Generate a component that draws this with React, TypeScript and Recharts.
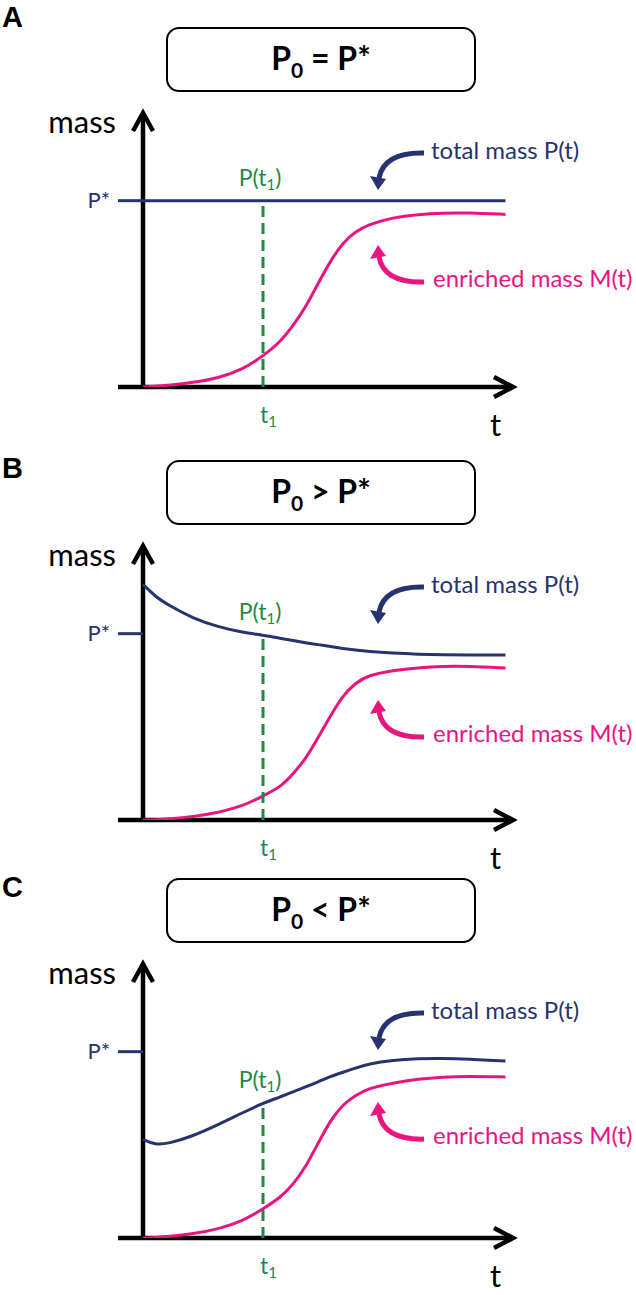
import React from 'react';
import { LineChart, Line, XAxis, YAxis, ReferenceLine, ReferenceDot } from 'recharts';

// time grid shared by all three panels
const times = [0, 0.5, 1, 2, 3, 4, 4.8, 5.5, 6, 6.5, 7, 7.5, 8, 8.5, 9, 10, 11, 12, 13, 14.5];
const T1 = 4.8;
const P_STAR = 6.8;

// panel A: P0 = P*
const enrichedA = [0, 0.02, 0.06, 0.16, 0.32, 0.64, 1.13, 1.65, 2.23, 2.9, 3.78, 4.6, 5.28, 5.67, 5.92, 6.19, 6.3, 6.35, 6.36, 6.3];
const totalA = [6.8, 6.8, 6.8, 6.8, 6.8, 6.8, 6.8, 6.8, 6.8, 6.8, 6.8, 6.8, 6.8, 6.8, 6.8, 6.8, 6.8, 6.8, 6.8, 6.8];

// panel B: P0 > P*
const enrichedB = [0, 0.01, 0.04, 0.12, 0.27, 0.51, 0.88, 1.2, 1.68, 2.22, 3.0, 3.8, 4.55, 5.0, 5.28, 5.46, 5.56, 5.61, 5.61, 5.55];
const totalB = [8.6, 8.15, 7.85, 7.36, 7.05, 6.84, 6.75, 6.63, 6.55, 6.47, 6.4, 6.33, 6.26, 6.2, 6.15, 6.09, 6.05, 6.03, 6.02, 6.02];

// panel C: P0 < P*
const enrichedC = [0, 0.02, 0.05, 0.15, 0.32, 0.62, 1.06, 1.48, 1.95, 2.58, 3.45, 4.3, 4.88, 5.2, 5.46, 5.66, 5.8, 5.88, 5.9, 5.88];
const totalC = [3.6, 3.4, 3.44, 3.72, 4.13, 4.58, 4.92, 5.15, 5.33, 5.51, 5.7, 5.9, 6.05, 6.2, 6.35, 6.49, 6.55, 6.56, 6.53, 6.46];

const NAVY = '#26336f';
const PINK = '#e8157f';
const GREEN = '#1d8a47';
const FONT = 'Lato, "Open Sans", sans-serif';

const panels = [
  { letter: 'A', top: 27, letterTop: -24, op: '=', enriched: enrichedA, total: totalA, blueTip: 7.19, pinkTip: 5.18 },
  { letter: 'B', top: 460, letterTop: -6, op: '>', enriched: enrichedB, total: totalB, blueTip: 7.15, pinkTip: 4.38 },
  { letter: 'C', top: 878, letterTop: -5, op: '<', enriched: enrichedC, total: totalC, blueTip: 6.86, pinkTip: 4.96 },
];

const XArrow = (p: any) => {
  const y = p.y1;
  const tip = Math.max(p.x1, p.x2);
  const start = Math.min(p.x1, p.x2);
  return (
    <g>
      <line x1={start} y1={y} x2={tip - 3} y2={y} stroke="#000" strokeWidth={4.5} />
      <polyline points={`${tip - 19},${y - 10} ${tip},${y} ${tip - 19},${y + 10}`} fill="none" stroke="#000" strokeWidth={4.5} />
    </g>
  );
};

const YArrow = (p: any) => {
  const x = p.x1;
  const tip = Math.min(p.y1, p.y2);
  const base = Math.max(p.y1, p.y2);
  return (
    <g>
      <line x1={x} y1={base} x2={x} y2={tip + 3} stroke="#000" strokeWidth={4.5} />
      <polyline points={`${x - 10},${tip + 18} ${x},${tip} ${x + 10},${tip + 18}`} fill="none" stroke="#000" strokeWidth={4.5} />
    </g>
  );
};

const BlueNote = ({ cx, cy }: any) => (
  <g>
    <path d={`M${cx + 46},${cy - 37} Q${cx + 6},${cy - 38} ${cx + 1},${cy - 12}`} fill="none" stroke={NAVY} strokeWidth={5} />
    <polygon points={`${cx},${cy} ${cx - 8},${cy - 14} ${cx + 8},${cy - 11}`} fill={NAVY} />
    <text x={cx + 53} y={cy - 31} fill={NAVY} fontSize={24} fontFamily={FONT}>total mass P(t)</text>
  </g>
);

const PinkNote = ({ cx, cy }: any) => (
  <g>
    <path d={`M${cx + 46},${cy + 37} Q${cx + 6},${cy + 38} ${cx + 1},${cy + 12}`} fill="none" stroke={PINK} strokeWidth={5} />
    <polygon points={`${cx},${cy} ${cx - 8},${cy + 14} ${cx + 8},${cy + 11}`} fill={PINK} />
    <text x={cx + 55} y={cy + 42} fill={PINK} fontSize={24} fontFamily={FONT}>enriched mass M(t)</text>
  </g>
);

const Panel = ({ cfg }: any) => {
  const rows = times.map((t, i) => ({ t, m: cfg.enriched[i], p: cfg.total[i] }));
  const pAtT1 = cfg.total[times.indexOf(T1)];
  return (
    <div style={{ position: 'absolute', left: 0, top: cfg.top, width: 636, height: 430 }}>
      <div style={{ position: 'absolute', left: 2, top: cfg.letterTop, fontFamily: '"Liberation Sans", Arial, sans-serif', fontWeight: 700, fontSize: 29, lineHeight: 1 }}>
        {cfg.letter}
      </div>
      <div
        style={{
          position: 'absolute', left: 166, top: 0, width: 310, height: 65, boxSizing: 'border-box',
          border: '2.5px solid #000', borderRadius: 13, display: 'flex', alignItems: 'center', justifyContent: 'center',
          fontFamily: FONT, fontWeight: 700, fontSize: 32, color: '#000',
        }}
      >
        <span style={{ position: 'relative', top: -2 }}>
          P<span style={{ fontSize: 21, position: 'relative', top: 8 }}>0</span> {cfg.op} P*
        </span>
      </div>
      <div style={{ position: 'absolute', left: 0, top: 60 }}>
        <LineChart width={636} height={370} data={rows} margin={{ top: 26, right: 118, bottom: 70, left: 118 }}>
          <XAxis dataKey="t" type="number" domain={[-1, 15]} hide allowDataOverflow />
          <YAxis type="number" domain={[0, 10]} hide allowDataOverflow />
          <ReferenceLine segment={[{ x: -1, y: 0 }, { x: 14.8, y: 0 }]} shape={XArrow} ifOverflow="visible" />
          <ReferenceLine segment={[{ x: 0, y: 0 }, { x: 0, y: 10 }]} shape={YArrow} ifOverflow="visible" />
          <ReferenceLine segment={[{ x: -1, y: P_STAR }, { x: 0, y: P_STAR }]} stroke={NAVY} strokeWidth={3} ifOverflow="visible" />
          <Line dataKey="m" type="basis" stroke={PINK} strokeWidth={3} dot={false} isAnimationActive={false} />
          <Line dataKey="p" type="basis" stroke={NAVY} strokeWidth={3} dot={false} isAnimationActive={false} />
          <ReferenceLine segment={[{ x: T1, y: 0 }, { x: T1, y: pAtT1 }]} stroke={GREEN} strokeWidth={3} strokeDasharray="11 6" ifOverflow="visible" />
          <ReferenceDot x={-1} y={10} r={0} ifOverflow="visible" shape={({ cx, cy }: any) => (
            <text x={cx - 2} y={cy + 20} textAnchor="end" fontSize={31} fontFamily={FONT} fill="#000">mass</text>
          )} />
          <ReferenceDot x={-1} y={P_STAR} r={0} ifOverflow="visible" shape={({ cx, cy }: any) => (
            <text x={cx - 8} y={cy + 7} textAnchor="end" fontSize={22} fontFamily={FONT} fill={NAVY}>P*</text>
          )} />
          <ReferenceDot x={14.1} y={0} r={0} ifOverflow="visible" shape={({ cx, cy }: any) => (
            <text x={cx} y={cy + 49} textAnchor="middle" fontSize={31} fontFamily={FONT} fill="#000">t</text>
          )} />
          <ReferenceDot x={T1} y={0} r={0} ifOverflow="visible" shape={({ cx, cy }: any) => (
            <text x={cx - 3} y={cy + 36} fontSize={23} fontFamily={FONT} fill={GREEN}>
              t<tspan fontSize={15} dy={4}>1</tspan>
            </text>
          )} />
          <ReferenceDot x={T1} y={pAtT1} r={0} ifOverflow="visible" shape={({ cx, cy }: any) => (
            <text x={cx - 3} y={cy - 15} textAnchor="middle" fontSize={23} fontFamily={FONT} fill={GREEN}>
              P(t<tspan fontSize={15} dy={4}>1</tspan><tspan dy={-4}>)</tspan>
            </text>
          )} />
          <ReferenceDot x={9.4} y={cfg.blueTip} r={0} ifOverflow="visible" shape={BlueNote} />
          <ReferenceDot x={9.4} y={cfg.pinkTip} r={0} ifOverflow="visible" shape={PinkNote} />
        </LineChart>
      </div>
    </div>
  );
}

export default function App() {
  return (
    <div style={{ position: 'absolute', left: 0, top: 0, width: 636, height: 1295, background: '#fff', overflow: 'hidden' }}>
      {panels.map((cfg) => (
        <Panel key={cfg.letter} cfg={cfg} />
      ))}
    </div>
  );
}
